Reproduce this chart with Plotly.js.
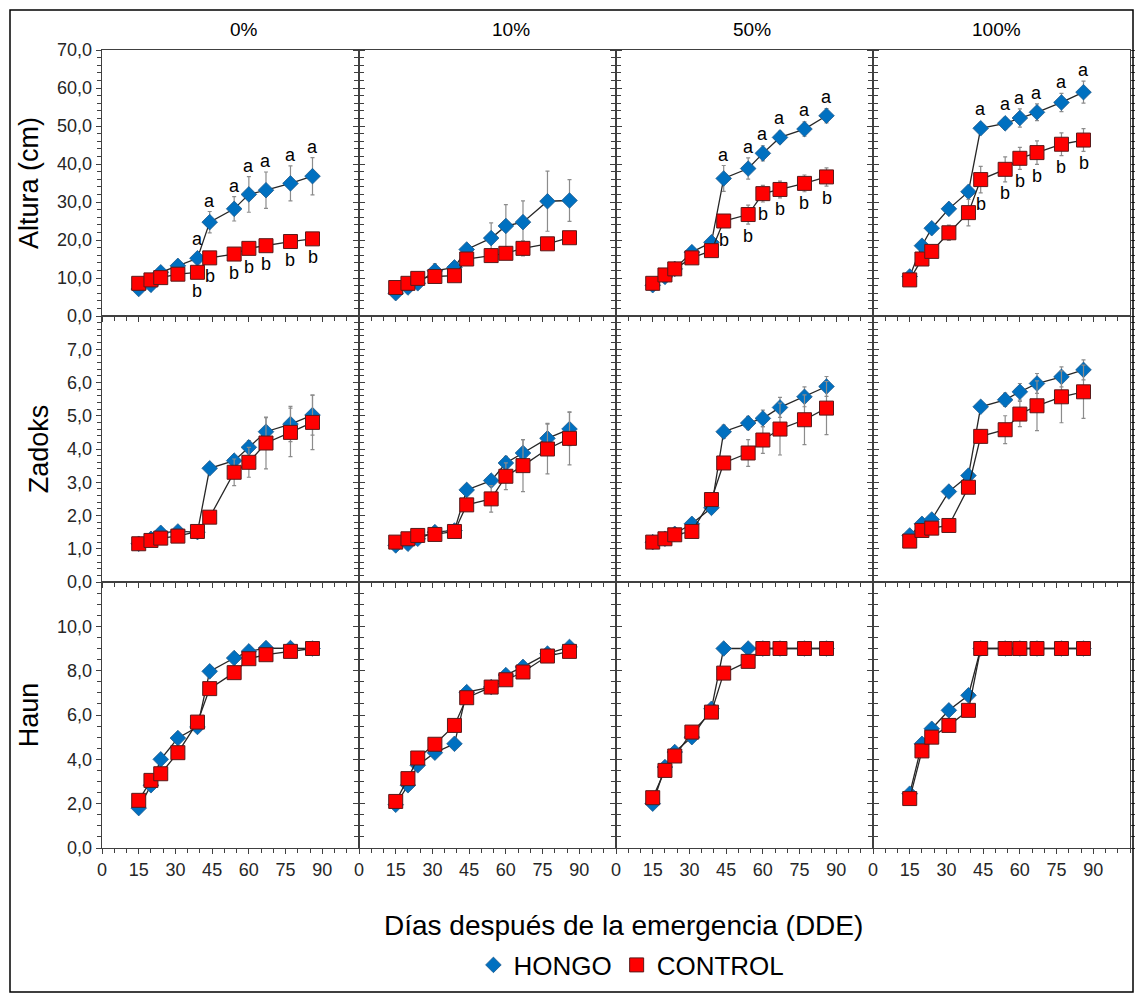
<!DOCTYPE html>
<html><head><meta charset="utf-8">
<script src="https://cdn.plot.ly/plotly-3.0.1.min.js"></script>
<style>body{margin:0;background:#fff}#chart{width:1135px;height:993px}</style>
</head><body><div id="chart"></div>
<script>
// ---------- DATA ----------
const days = [15, 20, 24, 31, 39, 44, 54, 60, 67, 77, 86];
const treatments = ['0%', '10%', '50%', '100%'];
const variables = ['Altura (cm)', 'Zadoks', 'Haun'];
const seriesNames = ['HONGO', 'CONTROL'];
const xTickVals = [0, 15, 30, 45, 60, 75, 90];
const yTickVals_altura = [0, 10, 20, 30, 40, 50, 60, 70];
const yTickVals_zadoks = [0, 1, 2, 3, 4, 5, 6, 7];
const yTickVals_haun = [0, 2, 4, 6, 8, 10];

// Altura (cm)
const altura_hongo_0   = [7.1, 8.2, 11.5, 13.2, 15.2, 24.7, 28.2, 32.0, 33.1, 34.9, 36.8];
const altura_control_0 = [8.6, 9.5, 10.1, 11.0, 11.5, 15.3, 16.3, 17.8, 18.5, 19.6, 20.3];
const altura_hongo_10   = [6.0, 7.5, 8.6, 11.9, 12.8, 17.5, 20.5, 23.7, 24.7, 30.2, 30.4];
const altura_control_10 = [7.5, 8.6, 9.9, 10.4, 10.6, 15.0, 15.9, 16.5, 17.8, 19.0, 20.6];
const altura_hongo_50   = [8.1, 10.3, 12.4, 16.8, 19.4, 36.2, 38.8, 42.8, 47.0, 49.2, 52.7];
const altura_control_50 = [8.6, 10.8, 12.4, 15.3, 17.2, 25.0, 26.7, 32.2, 33.3, 34.9, 36.6];
const altura_hongo_100   = [10.4, 18.5, 23.1, 28.2, 32.7, 49.4, 50.7, 52.1, 53.6, 56.2, 58.9];
const altura_control_100 = [9.5, 15.0, 17.0, 21.9, 27.2, 35.9, 38.6, 41.5, 43.0, 45.2, 46.3];
const altura_hongo_err_0   = [0.5, 0.6, 0.8, 0.8, 1.0, 2.8, 3.2, 4.7, 4.8, 4.6, 4.9];
const altura_control_err_0 = [0.6, 0.6, 0.7, 0.8, 0.9, 1.0, 1.0, 1.1, 1.0, 1.2, 1.2];
const altura_hongo_err_10   = [0.5, 0.6, 0.8, 1.8, 1.0, 1.2, 4.0, 5.6, 5.6, 7.9, 5.5];
const altura_control_err_10 = [0.6, 0.6, 0.8, 0.9, 0.9, 1.2, 1.3, 1.6, 2.0, 1.3, 1.0];
const altura_hongo_err_50   = [0.5, 0.6, 0.8, 1.0, 1.2, 3.4, 2.8, 2.0, 1.6, 1.9, 1.9];
const altura_control_err_50 = [0.6, 0.6, 0.8, 0.9, 1.0, 1.5, 2.5, 2.2, 2.2, 2.2, 2.4];
const altura_hongo_err_100   = [0.5, 0.8, 1.0, 1.0, 1.2, 1.3, 1.5, 2.4, 2.2, 2.4, 2.9];
const altura_control_err_100 = [0.6, 0.8, 1.0, 2.0, 3.5, 3.5, 3.3, 2.9, 3.1, 3.0, 3.0];

// Zadoks
const zadoks_hongo_0   = [1.15, 1.3, 1.48, 1.52, 1.5, 3.42, 3.65, 4.05, 4.52, 4.75, 5.02];
const zadoks_control_0 = [1.15, 1.25, 1.32, 1.38, 1.52, 1.95, 3.3, 3.6, 4.18, 4.5, 4.8];
const zadoks_hongo_10   = [1.1, 1.15, 1.3, 1.5, 1.55, 2.77, 3.05, 3.58, 3.88, 4.32, 4.6];
const zadoks_control_10 = [1.2, 1.3, 1.4, 1.43, 1.52, 2.32, 2.5, 3.18, 3.5, 4.0, 4.32];
const zadoks_hongo_50   = [1.2, 1.3, 1.45, 1.75, 2.23, 4.52, 4.78, 4.92, 5.25, 5.57, 5.88];
const zadoks_control_50 = [1.2, 1.3, 1.42, 1.52, 2.48, 3.58, 3.88, 4.27, 4.6, 4.88, 5.23];
const zadoks_hongo_100   = [1.4, 1.75, 1.88, 2.72, 3.2, 5.27, 5.48, 5.72, 5.97, 6.17, 6.38];
const zadoks_control_100 = [1.23, 1.55, 1.62, 1.7, 2.85, 4.38, 4.58, 5.05, 5.3, 5.57, 5.72];
const zadoks_hongo_err_0   = [0.05, 0.05, 0.05, 0.05, 0.05, 0.1, 0.15, 0.2, 0.42, 0.53, 0.6];
const zadoks_control_err_0 = [0.05, 0.05, 0.05, 0.05, 0.05, 0.1, 0.4, 0.45, 0.78, 0.73, 0.82];
const zadoks_hongo_err_10   = [0.05, 0.05, 0.05, 0.1, 0.05, 0.1, 0.15, 0.2, 0.4, 0.45, 0.5];
const zadoks_control_err_10 = [0.05, 0.05, 0.05, 0.05, 0.05, 0.1, 0.4, 0.4, 0.78, 0.75, 0.8];
const zadoks_hongo_err_50   = [0.05, 0.05, 0.05, 0.1, 0.1, 0.2, 0.2, 0.25, 0.3, 0.3, 0.3];
const zadoks_control_err_50 = [0.05, 0.05, 0.05, 0.05, 0.1, 0.1, 0.4, 0.4, 0.78, 0.75, 0.8];
const zadoks_hongo_err_100   = [0.05, 0.05, 0.1, 0.1, 0.1, 0.15, 0.2, 0.25, 0.3, 0.3, 0.3];
const zadoks_control_err_100 = [0.05, 0.05, 0.05, 0.05, 0.1, 0.2, 0.42, 0.38, 0.75, 0.78, 0.8];

// Haun
const haun_hongo_0   = [1.8, 2.83, 4.0, 4.96, 5.46, 7.97, 8.57, 8.87, 9.02, 9.02, 9.0];
const haun_control_0 = [2.15, 3.05, 3.35, 4.3, 5.68, 7.19, 7.91, 8.54, 8.72, 8.87, 9.0];
const haun_hongo_10   = [1.95, 2.83, 3.73, 4.3, 4.7, 7.03, 7.26, 7.8, 8.17, 8.77, 9.07];
const haun_control_10 = [2.1, 3.13, 4.06, 4.68, 5.53, 6.78, 7.26, 7.59, 7.94, 8.66, 8.87];
const haun_hongo_50   = [2.0, 3.65, 4.33, 5.0, 6.28, 9.0, 9.0, 9.0, 9.0, 9.0, 9.0];
const haun_control_50 = [2.27, 3.5, 4.15, 5.23, 6.13, 7.89, 8.42, 9.0, 9.0, 9.0, 9.0];
const haun_hongo_100   = [2.45, 4.7, 5.38, 6.21, 6.89, 9.0, 9.0, 9.0, 9.0, 9.0, 9.0];
const haun_control_100 = [2.23, 4.38, 5.0, 5.53, 6.21, 9.0, 9.0, 9.0, 9.0, 9.0, 9.0];
const haun_err = [0.1, 0.1, 0.1, 0.1, 0.1, 0.1, 0.1, 0.1, 0.1, 0.1, 0.1];

// Significance letters (Altura)
const letras_hongo_0   = ['', '', '', '', 'a', 'a', 'a', 'a', 'a', 'a', 'a'];
const letras_control_0 = ['', '', '', '', 'b', 'b', 'b', 'b', 'b', 'b', 'b'];
const letras_hongo_10   = ['', '', '', '', '', '', '', '', '', '', ''];
const letras_control_10 = ['', '', '', '', '', '', '', '', '', '', ''];
const letras_hongo_50   = ['', '', '', '', '', 'a', 'a', 'a', 'a', 'a', 'a'];
const letras_control_50 = ['', '', '', '', '', 'b', 'b', 'b', 'b', 'b', 'b'];
const letras_hongo_100   = ['', '', '', '', '', 'a', 'a', 'a', 'a', 'a', 'a'];
const letras_control_100 = ['', '', '', '', '', 'b', 'b', 'b', 'b', 'b', 'b'];

// ---------- ASSEMBLY ----------
const values = [
  [[altura_hongo_0, altura_control_0], [altura_hongo_10, altura_control_10], [altura_hongo_50, altura_control_50], [altura_hongo_100, altura_control_100]],
  [[zadoks_hongo_0, zadoks_control_0], [zadoks_hongo_10, zadoks_control_10], [zadoks_hongo_50, zadoks_control_50], [zadoks_hongo_100, zadoks_control_100]],
  [[haun_hongo_0, haun_control_0], [haun_hongo_10, haun_control_10], [haun_hongo_50, haun_control_50], [haun_hongo_100, haun_control_100]]
];
const errors = [
  [[altura_hongo_err_0, altura_control_err_0], [altura_hongo_err_10, altura_control_err_10], [altura_hongo_err_50, altura_control_err_50], [altura_hongo_err_100, altura_control_err_100]],
  [[zadoks_hongo_err_0, zadoks_control_err_0], [zadoks_hongo_err_10, zadoks_control_err_10], [zadoks_hongo_err_50, zadoks_control_err_50], [zadoks_hongo_err_100, zadoks_control_err_100]],
  [[haun_err, haun_err], [haun_err, haun_err], [haun_err, haun_err], [haun_err, haun_err]]
];
const letters = [[letras_hongo_0, letras_control_0], [letras_hongo_10, letras_control_10], [letras_hongo_50, letras_control_50], [letras_hongo_100, letras_control_100]];

const FONT = 'Liberation Sans, Arial, sans-serif';
const AX = '#404040';
const W = 1135, H = 993;
const M = {l: 102, r: 5, t: 50, b: 145};
const plotW = W - M.l - M.r, plotH = H - M.t - M.b;
const rowH = plotH / 3;
const yRanges = [[0, 70], [0, 8], [0, 12]];
const yTicks = [yTickVals_altura, yTickVals_zadoks, yTickVals_haun];
const yMinor = [2, 0.2, 0.5];
const colTitleX = [228, 511, 752, 1023];

const markerStyle = [
  {symbol: 'diamond', size: 12, color: '#0070C0', line: {color: '#1f5a8c', width: 0.8}},
  {symbol: 'square', size: 14, color: '#FF0000', line: {color: '#5a1a1a', width: 1}}
];

const data = [];
const annotations = [];
const layout = {
  width: W, height: H,
  margin: M,
  paper_bgcolor: '#fff', plot_bgcolor: '#fff',
  separators: ',.',
  font: {family: FONT, color: '#000'},
  showlegend: true,
  legend: {orientation: 'h', x: 0.515, xanchor: 'center', y: (M.t + plotH - 965) / plotH, yanchor: 'middle',
           font: {family: FONT, size: 26, color: '#000'}, itemwidth: 30, bgcolor: 'rgba(0,0,0,0)'},
  annotations: annotations,
  shapes: [{type: 'rect', xref: 'paper', yref: 'paper',
            x0: (10 - M.l) / plotW, x1: (1133 - M.l) / plotW,
            y0: (M.t + plotH - 992) / plotH, y1: (M.t + plotH - 10) / plotH,
            line: {color: '#000', width: 1.5}}]
};

for (let r = 0; r < 3; r++) {
  for (let c = 0; c < 4; c++) {
    const k = r * 4 + c + 1;
    const xs = k === 1 ? '' : String(k);
    const xref = 'x' + xs, yref = 'y' + xs;
    layout['xaxis' + xs] = {
      domain: [c / 4, (c + 1) / 4], anchor: yref, range: [0, 105],
      tickmode: 'array', tickvals: xTickVals, showticklabels: r === 2,
      ticks: 'outside', ticklen: 5, tickcolor: AX, tickwidth: 1,
      showline: true, linecolor: AX, linewidth: 1.3, mirror: true,
      showgrid: false, zeroline: false,
      minor: {tickmode: 'linear', tick0: 0, dtick: 5, ticks: 'outside', ticklen: 4, tickcolor: AX, showgrid: false},
      tickfont: {family: FONT, size: 18, color: '#262626'}
    };
    layout['yaxis' + xs] = {
      domain: [(2 - r) / 3, (3 - r) / 3], anchor: xref, range: yRanges[r],
      tickmode: 'array', tickvals: yTicks[r], tickformat: '.1f', showticklabels: c === 0,
      ticks: 'outside', ticklen: 5, tickcolor: AX, tickwidth: 1,
      showline: true, linecolor: AX, linewidth: 1.3, mirror: 'allticks',
      showgrid: false, zeroline: false,
      minor: {tickmode: 'linear', tick0: 0, dtick: yMinor[r], ticks: 'outside', ticklen: 4, tickcolor: AX, showgrid: false},
      tickfont: {family: FONT, size: 18, color: '#262626'},
      title: c === 0 ? {text: variables[r], font: {family: FONT, size: 27, color: '#000'}, standoff: 10} : undefined
    };
    const pxPerUnit = rowH / (yRanges[r][1] - yRanges[r][0]);
    for (let s = 0; s < 2; s++) {
      data.push({
        type: 'scatter', mode: 'lines+markers', name: seriesNames[s], showlegend: false,
        x: days, y: values[r][c][s], xaxis: xref, yaxis: yref,
        line: {color: '#262626', width: 1.3},
        marker: markerStyle[s],
        error_y: {type: 'data', array: errors[r][c][s], visible: true, color: '#8c8c8c', thickness: 1.2, width: 2},
        cliponaxis: false
      });
      if (r === 0) {
        letters[c][s].forEach((t, i) => {
          if (!t) return;
          const errPx = errors[r][c][s][i] * pxPerUnit;
          const shift = s === 0 ? Math.max(errPx, 8) + 11 : -(Math.max(errPx, 7) + 11.5);
          annotations.push({xref: xref, yref: yref, x: days[i], y: values[r][c][s][i], text: t,
            showarrow: false, yanchor: 'middle', yshift: shift,
            font: {family: FONT, size: 18, color: '#000'}});
        });
      }
    }
  }
}

// legend entries (marker-only, like the reference)
for (let s = 0; s < 2; s++) {
  data.push({type: 'scatter', mode: 'markers', name: seriesNames[s], x: [null], y: [null],
             xaxis: 'x', yaxis: 'y', marker: markerStyle[s], showlegend: true, hoverinfo: 'skip'});
}

// column titles
treatments.forEach((t, c) => {
  annotations.push({xref: 'paper', yref: 'paper', x: (colTitleX[c] - M.l) / plotW, y: 1, yanchor: 'bottom', yshift: 8,
    text: t, showarrow: false, font: {family: FONT, size: 19, color: '#000'}});
});
// common x title
annotations.push({xref: 'paper', yref: 'paper', x: (623 - M.l) / plotW, y: (M.t + plotH - 925) / plotH,
  yanchor: 'middle', text: 'Días después de la emergencia (DDE)', showarrow: false,
  font: {family: FONT, size: 28, color: '#000'}});

Plotly.newPlot('chart', data, layout, {displayModeBar: false, staticPlot: true});
</script>
</body></html>
